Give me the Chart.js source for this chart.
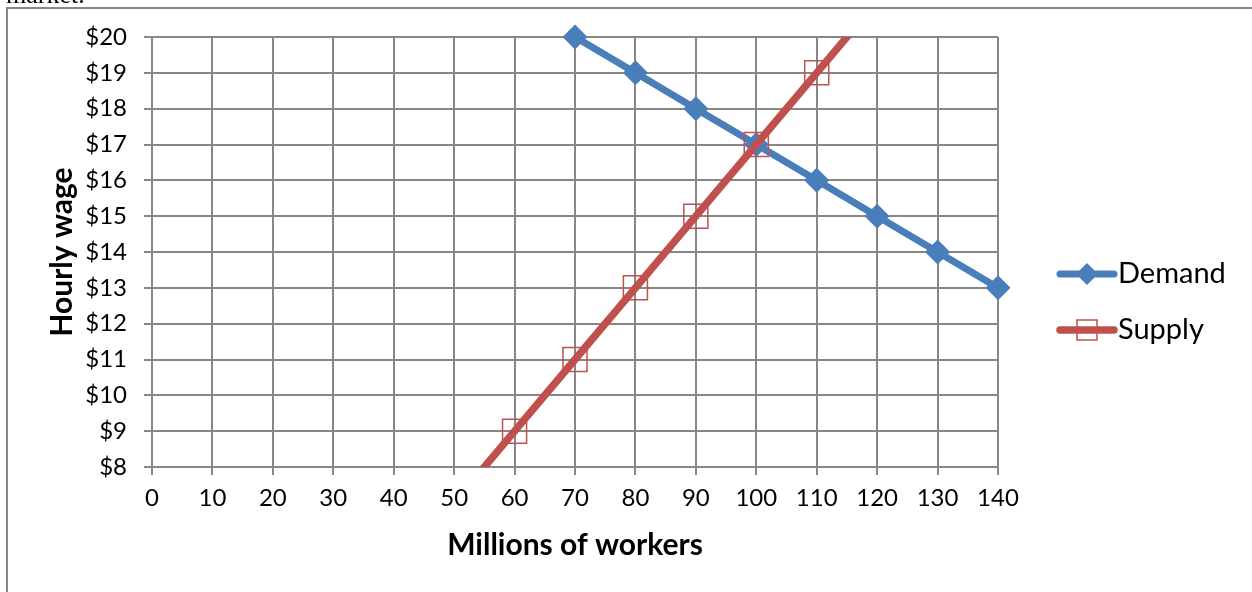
<!DOCTYPE html>
<html lang="en">
<head>
    <meta charset="UTF-8">
    <title>Labor market</title>
    <style>
        body {
            margin: 0;
            padding: 0;
            background: #ffffff;
            overflow: hidden;
        }
        .wrap {
            position: relative;
            width: 1252px;
            height: 592px;
        }
    </style>
</head>
<body>
    <div class="wrap">
        <canvas id="laborChart" width="1252" height="592"></canvas>
    </div>

    <script src="https://cdn.jsdelivr.net/npm/chart.js"></script>
    <script>
        // Values
        const demandWorkers = [70, 80, 90, 100, 110, 120, 130, 140];
        const demandWage = [20, 19, 18, 17, 16, 15, 14, 13];
        const supplyWorkers = [50, 60, 70, 80, 90, 100, 110, 120];
        const supplyWage = [7, 9, 11, 13, 15, 17, 19, 21];
        const xTicks = [0, 10, 20, 30, 40, 50, 60, 70, 80, 90, 100, 110, 120, 130, 140];
        const yTicks = [8, 9, 10, 11, 12, 13, 14, 15, 16, 17, 18, 19, 20];

        const blue = '#4A7EBB';
        const red = '#C0504D';
        const grid = '#878787';

        function toPoints(xs, ys) {
            return xs.map((x, i) => ({ x: x, y: ys[i] }));
        }

        // frame around the chart and the cut-off caption line above it
        const framePlugin = {
            id: 'frame',
            beforeDraw(chart) {
                const ctx = chart.ctx;
                ctx.save();
                ctx.fillStyle = '#ffffff';
                ctx.fillRect(0, 0, chart.width, chart.height);
                ctx.strokeStyle = grid;
                ctx.lineWidth = 2;
                ctx.strokeRect(7, 8, 1300, 700);
                ctx.fillStyle = '#000000';
                ctx.font = '26px "Liberation Serif"';
                ctx.textBaseline = 'alphabetic';
                ctx.fillText('market.', 6, 3);
                ctx.restore();
            }
        };

        // legend drawn as line + marker, like the spreadsheet one
        const legendPlugin = {
            id: 'sideLegend',
            afterDraw(chart) {
                const ctx = chart.ctx;
                const rows = [
                    { ds: chart.data.datasets[0], y: 274 },
                    { ds: chart.data.datasets[1], y: 330 }
                ];
                ctx.save();
                rows.forEach(row => {
                    const ds = row.ds;
                    const x0 = 1060, x1 = 1114, cx = (x0 + x1) / 2;
                    ctx.strokeStyle = ds.borderColor;
                    ctx.lineWidth = ds.borderWidth;
                    ctx.lineCap = 'round';
                    ctx.beginPath();
                    ctx.moveTo(x0, row.y);
                    ctx.lineTo(x1, row.y);
                    ctx.stroke();
                    if (ds.pointStyle === 'rectRot') {
                        const r = 11;
                        ctx.fillStyle = ds.pointBackgroundColor;
                        ctx.beginPath();
                        ctx.moveTo(cx, row.y - r);
                        ctx.lineTo(cx + r, row.y);
                        ctx.lineTo(cx, row.y + r);
                        ctx.lineTo(cx - r, row.y);
                        ctx.closePath();
                        ctx.fill();
                    } else {
                        const h = 10;
                        ctx.strokeStyle = ds.pointBorderColor;
                        ctx.lineWidth = ds.pointBorderWidth;
                        ctx.strokeRect(cx - h, row.y - h, 2 * h, 2 * h);
                    }
                    ctx.fillStyle = '#000000';
                    ctx.font = '29px Lato';
                    ctx.textBaseline = 'middle';
                    ctx.textAlign = 'left';
                    ctx.fillText(ds.label, 1118, row.y);
                });
                ctx.restore();
            }
        };

        const laborChart = new Chart(document.getElementById('laborChart').getContext('2d'), {
            type: 'line',
            data: {
                datasets: [{
                    label: 'Demand',
                    data: toPoints(demandWorkers, demandWage),
                    borderColor: blue,
                    backgroundColor: blue,
                    borderWidth: 7,
                    pointStyle: 'rectRot',
                    pointRadius: 12.5,
                    pointBackgroundColor: blue,
                    pointBorderColor: blue,
                    pointBorderWidth: 0,
                    tension: 0,
                    clip: false,
                    order: 1
                }, {
                    label: 'Supply',
                    data: toPoints(supplyWorkers, supplyWage),
                    borderColor: red,
                    backgroundColor: 'rgba(0,0,0,0)',
                    borderWidth: 7.5,
                    pointStyle: 'rect',
                    pointRadius: 17,
                    pointBackgroundColor: 'rgba(0,0,0,0)',
                    pointBorderColor: red,
                    pointBorderWidth: 1.5,
                    tension: 0,
                    clip: 0,
                    order: 0
                }]
            },
            options: {
                responsive: false,
                animation: false,
                events: [],
                layout: {
                    padding: { left: 0, top: 37, right: 254, bottom: 0 }
                },
                plugins: {
                    legend: { display: false },
                    tooltip: { enabled: false }
                },
                scales: {
                    x: {
                        type: 'linear',
                        min: xTicks[0],
                        max: xTicks[xTicks.length - 1],
                        afterBuildTicks: (scale) => {
                            scale.ticks = xTicks.map(v => ({ value: v }));
                        },
                        afterFit: (scale) => { scale.height = 125; },
                        grid: { color: grid, lineWidth: 2, tickLength: 8, tickColor: grid },
                        border: { color: grid, width: 2 },
                        ticks: {
                            color: '#000000',
                            font: { family: 'Lato', size: 24 },
                            padding: 9,
                            maxRotation: 0
                        },
                        title: {
                            display: true,
                            text: 'Millions of workers',
                            color: '#000000',
                            font: { family: 'Lato', size: 30, weight: 'bold' },
                            padding: { bottom: 29 }
                        }
                    },
                    y: {
                        type: 'linear',
                        min: yTicks[0],
                        max: yTicks[yTicks.length - 1],
                        afterBuildTicks: (scale) => {
                            scale.ticks = yTicks.map(v => ({ value: v }));
                        },
                        afterFit: (scale) => { scale.width = 152; },
                        grid: { color: grid, lineWidth: 2, tickLength: 8, tickColor: grid },
                        border: { color: grid, width: 2 },
                        ticks: {
                            color: '#000000',
                            font: { family: 'Lato', size: 24 },
                            padding: 17,
                            callback: (v) => '$' + v
                        },
                        title: {
                            display: true,
                            text: 'Hourly wage',
                            color: '#000000',
                            font: { family: 'Lato', size: 30, weight: 'bold' },
                            padding: { top: 44 }
                        }
                    }
                }
            },
            plugins: [framePlugin, legendPlugin]
        });
    </script>
</body>
</html>
